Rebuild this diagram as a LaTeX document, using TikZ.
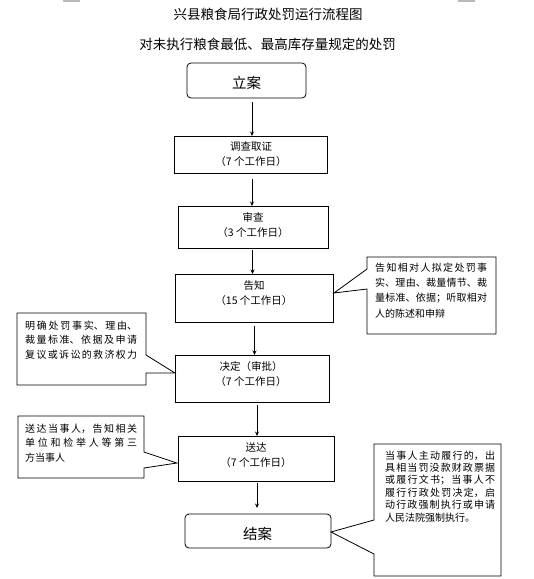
\documentclass[tikz,border=0pt]{standalone}
\usepackage{fontspec}
\setmainfont{Noto Sans CJK SC}
\usetikzlibrary{arrows.meta}
\XeTeXlinebreaklocale "zh"
\XeTeXlinebreakskip=0pt plus 4pt
\setlength{\parindent}{0pt}
\begin{document}
\begin{tikzpicture}[x=1pt,y=-1pt,
  flowbox/.style={draw, line width=0.8pt, inner sep=0pt, outer sep=0pt},
  roundbox/.style={flowbox, rounded corners=4pt},
  boxtext/.style={align=center, inner sep=0pt, font=\fontsize{10.5}{15}\selectfont},
  bigtext/.style={inner sep=0pt, font=\fontsize{14.5}{16}\selectfont},
  titletext/.style={inner sep=0pt, font=\fontsize{13.5}{16}\selectfont},
  note/.style={anchor=north west, inner sep=0pt, align=justify},
  callout/.style={draw, line width=0.8pt, fill=white},
  arr/.style={line width=0.8pt, -{Stealth[length=4.5pt,width=4pt]}}]
\useasboundingbox (0,0) rectangle (534,579);
\fill[gray!55] (63,0) rectangle (80,1.5);
\fill[gray!55] (458,0) rectangle (475,1.5);

\node[titletext] (title1) at (268,14) {兴县粮食局行政处罚运行流程图};
\node[titletext] (title2) at (267.5,44) {对未执行粮食最低、最高库存量规定的处罚};

% boxes
\node[roundbox, minimum width=119pt, minimum height=35pt] (b0) at (246.5,80.5) {};
\node[flowbox, minimum width=153pt, minimum height=37pt] (b1) at (250.5,154.5) {};
\node[flowbox, minimum width=150pt, minimum height=42pt] (b2) at (253,227) {};
\node[flowbox, minimum width=158pt, minimum height=48pt] (b3) at (254,298) {};
\node[flowbox, minimum width=154pt, minimum height=47pt] (b4) at (252,378.5) {};
\node[flowbox, minimum width=156pt, minimum height=45pt] (b5) at (256,458.5) {};
\node[roundbox, minimum width=146pt, minimum height=34pt] (b6) at (258,531) {};

% box texts
\node[bigtext] (t0) at (246.5,83) {立案};
\node[boxtext] (t1) at (251,154.5) {调查取证\\（7 个工作日）};
\node[boxtext] (t2) at (253,225) {审查\\（3 个工作日）};
\node[boxtext] (t3) at (254,293.5) {告知\\（15 个工作日）};
\node[boxtext] (t4) at (251,374) {决定（审批）\\（7 个工作日）};
\node[boxtext] (t5) at (256,455) {送达\\（7 个工作日）};
\node[bigtext] (t6) at (257.5,534) {结案};

% arrows
\draw[arr] ([xshift=5.5pt,yshift=-4pt]b0.south) -- ([xshift=1.5pt]b1.north);
\draw[arr] ([xshift=1.5pt,yshift=-6pt]b1.south) -- ([xshift=-1pt]b2.north);
\draw[arr] ([xshift=-0.5pt,yshift=-2pt]b2.south) -- ([xshift=-1.5pt]b3.north);
\draw[arr] ([xshift=0.5pt,yshift=-4pt]b3.south) -- ([xshift=2.5pt]b4.north);
\draw[arr] ([xshift=5pt,yshift=-3pt]b4.south) -- ([xshift=1pt]b5.north);
\draw[arr] ([xshift=1pt,yshift=-2pt]b5.south) -- ([xshift=-1pt,yshift=6pt]b6.north);

% callouts
\draw[callout] (367,257) -- (496,257) -- (496,334) -- (367,334) -- (367,289) -- (334,293) -- (367,269) -- cycle;
\draw[callout] (17,313) -- (146,313) -- (146,355) -- (175,373) -- (146,373) -- (146,385) -- (17,385) -- cycle;
\draw[callout] (18,416) -- (144,416) -- (144,452) -- (177,463) -- (144,468) -- (144,478) -- (18,478) -- cycle;
\draw[callout] (374,444) -- (501,444) -- (501,576) -- (374,576) -- (374,554) -- (331,532) -- (374,520) -- cycle;

\node[note, text width=112pt, font=\fontsize{10}{15.3}\selectfont] (n1) at (375,262.5) {告知相对人拟定处罚事\linebreak 实、理由、裁量情节、裁\linebreak 量标准、依据；听取相对\linebreak 人的陈述和申辩};
\node[note, text width=112pt, font=\fontsize{10}{14.5}\selectfont] (n2) at (25,320.5) {明确处罚事实、理由、\linebreak 裁量标准、依据及申请\linebreak 复议或诉讼的救济权力\linebreak};
\node[note, text width=112pt, font=\fontsize{10}{14.5}\selectfont] (n3) at (25,423.5) {送达当事人，告知相关\linebreak 单位和检举人等第三\linebreak 方当事人};
\node[note, text width=110pt, font=\fontsize{10}{12.4}\selectfont] (n4) at (385,450.5) {当事人主动履行的，出\linebreak 具相当罚没款财政票据\linebreak 或履行文书；当事人不\linebreak 履行行政处罚决定，启\linebreak 动行政强制执行或申请\linebreak 人民法院强制执行。};
\end{tikzpicture}
\end{document}
